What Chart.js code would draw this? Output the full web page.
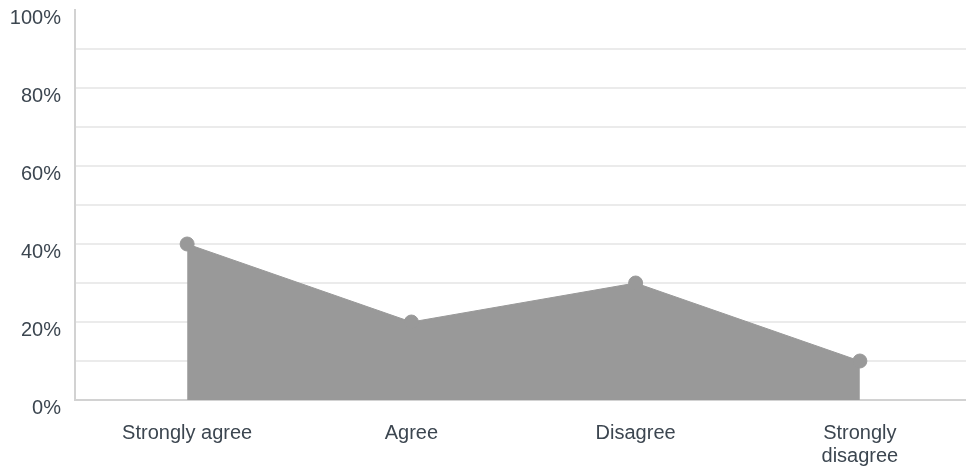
<!DOCTYPE html>
<html>
<head>
<meta charset="utf-8">
<script src="https://cdn.jsdelivr.net/npm/chart.js@4/dist/chart.umd.min.js"></script>
<style>
  body { margin: 0; background: #fff; overflow: hidden; }
  #grafico { display: block; }
</style>
</head>
<body>
<canvas id="grafico" width="972" height="468"></canvas>
<script>
let respostas = ["Strongly agree", "Agree", "Disagree", ["Strongly", "disagree"]];
let percentuais = [40, 20, 30, 10];
let eixoY = { min: 0, max: 100, passo: 10 };

const ctx = document.getElementById("grafico");

window.myCharts = new Chart(ctx, {
  type: "line",
  data: {
    labels: respostas,
    datasets: [
      {
        label: "Respostas",
        data: percentuais,
        fill: "origin",
        backgroundColor: "#999999",
        borderColor: "#999999",
        borderWidth: 1,
        pointBackgroundColor: "#999999",
        pointBorderColor: "#999999",
        pointRadius: 7,
        tension: 0,
      },
    ],
  },
  options: {
    responsive: false,
    animation: false,
    layout: { autoPadding: false, padding: { top: 0, right: 0, bottom: 0, left: 0 } },
    plugins: { legend: { display: false }, tooltip: { enabled: false } },
    scales: {
      x: {
        offset: true,
        grid: { display: false, drawTicks: false },
        border: { display: true, color: "#d2d2d2", width: 2 },
        ticks: {
          color: "#3c4650",
          font: { family: "Liberation Sans, Arial", size: 20, lineHeight: 1.15 },
          padding: 22,
          maxRotation: 0,
          autoSkip: false,
        },
        afterFit: function (scale) {
          scale.height = 68;
        },
      },
      y: {
        min: eixoY.min,
        max: eixoY.max,
        grid: {
          drawTicks: false,
          color: function (c) {
            if (c.tick && c.tick.value === 100) return "rgba(0,0,0,0)";
            return "#ebebeb";
          },
          lineWidth: 2,
        },
        border: { display: true, color: "#d2d2d2", width: 2 },
        ticks: {
          stepSize: eixoY.passo,
          color: "#3c4650",
          font: { family: "Liberation Sans, Arial", size: 20 },
          padding: 14,
          labelOffset: 8,
          callback: function (v) {
            return v % 20 === 0 ? v + "%" : "";
          },
        },
        afterFit: function (scale) {
          scale.width = 75;
          scale.paddingTop = 10;
        },
      },
    },
  },
});
</script>
</body>
</html>
